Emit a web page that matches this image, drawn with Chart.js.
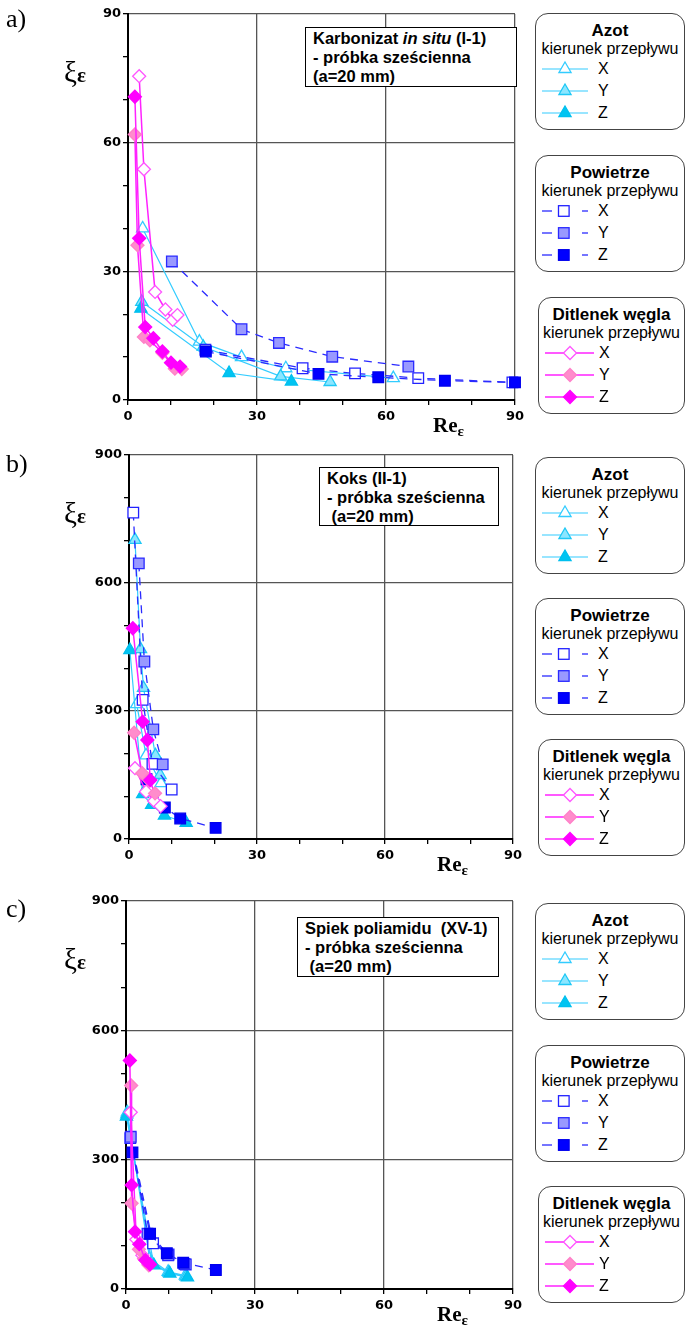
<!DOCTYPE html>
<html lang="pl"><head><meta charset="utf-8">
<script src="https://cdn.jsdelivr.net/npm/chart.js@4.4.1/dist/chart.umd.min.js"></script>
<style>
html,body{margin:0;padding:0;background:#fff;}
body{width:685px;height:1327px;position:relative;overflow:hidden;font-family:"Liberation Sans",Arial,sans-serif;color:#000;}
canvas{position:absolute;left:0;}
.pl{position:absolute;font-family:"Liberation Serif","Times New Roman",serif;font-size:26px;line-height:26px;}
.yt{position:absolute;font-family:"Liberation Serif","Times New Roman",serif;line-height:30px;white-space:nowrap;}
.yt .g{font-size:29px;}
.yt .s{font-size:21px;font-weight:bold;}
.xt{position:absolute;font-family:"Liberation Serif","Times New Roman",serif;font-weight:bold;font-size:21px;line-height:22px;white-space:nowrap;}
.xt .s{font-size:15px;position:relative;top:4px;}
.note{position:absolute;background:#fff;border:1px solid #000;box-sizing:border-box;font-weight:bold;font-size:16.5px;line-height:19px;padding:1px 0 0 7px;white-space:pre;}
.leg{position:absolute;background:#fff;border:1.5px solid #444;border-radius:13px;box-sizing:border-box;height:117px;}
.leg .t{position:absolute;left:0;right:0;text-align:center;font-weight:bold;font-size:17px;line-height:20px;top:7px;white-space:nowrap;}
.leg .st{position:absolute;left:-4px;right:-4px;text-align:center;font-size:16px;line-height:18px;top:26px;white-space:nowrap;}
.leg svg{position:absolute;}
.leg .k{position:absolute;font-size:16px;line-height:18px;}
</style></head>
<body>
<canvas id="cA" width="530" height="440" style="top:0px"></canvas>
<canvas id="cB" width="530" height="438" style="top:441px"></canvas>
<canvas id="cC" width="530" height="442" style="top:887px"></canvas>
<script>
// ---------- DATA ----------
const groupNames = ['Azot', 'Powietrze', 'Ditlenek węgla'];
const legendSubtitle = 'kierunek przepływu';
const directions = ['X', 'Y', 'Z'];
const xTickLabels = [0, 30, 60, 90];
const yTickLabelsA = [0, 30, 60, 90];
const yTickLabelsBC = [0, 300, 600, 900];

// a) Karbonizat in situ (I-1)   [Re_eps, xi_eps]
const aAzotX = [[3.4,40.0],[16.6,13.6],[26.4,10.0],[36.7,7.4],[61.7,5.1]];
const aAzotY = [[3.2,22.9],[17.5,12.4],[35.5,5.5],[47.0,4.2]];
const aAzotZ = [[3.0,21.3],[23.5,6.3],[38.0,4.3]];
const aPowX  = [[18.0,11.7],[40.6,7.4],[52.8,6.2],[67.5,5.1],[89.4,4.1]];
const aPowY  = [[10.2,32.3],[26.4,16.5],[35.1,13.3],[47.5,10.1],[65.2,7.8]];
const aPowZ  = [[18.1,11.3],[44.3,6.1],[58.2,5.3],[73.7,4.5],[90.0,4.1]];
const aCo2X  = [[2.6,75.5],[3.7,53.8],[6.3,25.2],[8.7,21.1],[10.4,18.7],[11.5,19.8]];
const aCo2Y  = [[1.6,61.9],[2.2,36.1],[3.7,14.7],[5.1,13.9],[8.0,11.0],[10.9,7.3],[12.5,7.2]];
const aCo2Z  = [[1.6,70.7],[2.6,37.7],[4.0,17.0],[5.9,14.4],[8.0,11.3],[10.0,8.7],[12.1,7.8]];

// b) Koks (II-1)
const bAzotX = [[1.8,316],[4.0,196],[7.5,131]];
const bAzotY = [[1.4,701],[2.7,445],[3.4,354],[6.2,196],[7.3,150]];
const bAzotZ = [[0.2,443],[3.2,105],[5.3,80],[8.3,55],[13.4,38]];
const bPowX  = [[1.0,765],[3.2,326],[5.5,176],[10.0,116]];
const bPowY  = [[2.3,646],[3.6,416],[5.7,257],[7.9,175]];
const bPowZ  = [[4.1,140],[8.4,74],[12.0,48],[20.3,26]];
const bCo2X  = [[1.4,166],[4.0,111],[5.9,89],[7.4,77]];
const bCo2Y  = [[1.2,249],[3.1,154],[4.8,137],[6.1,107]];
const bCo2Z  = [[0.9,494],[3.2,275],[4.3,232],[5.0,138]];

// c) Spiek poliamidu (XV-1)
const cAzotX = [[0.3,410],[5.5,70],[9.8,40],[13.8,31]];
const cAzotY = [[0.2,405],[6.0,60],[10.0,38],[14.0,29]];
const cAzotZ = [[0.1,400],[6.5,55],[10.2,36],[14.3,27]];
const cPowX  = [[1.0,350],[6.3,106],[9.9,80],[13.9,57]];
const cPowY  = [[1.1,353],[5.0,128],[9.8,78],[13.6,58]];
const cPowZ  = [[1.5,317],[5.6,128],[9.5,83],[13.3,61],[20.9,44]];
const cCo2X  = [[1.1,410],[2.4,115],[3.8,78],[5.2,58]];
const cCo2Y  = [[1.2,472],[1.3,199],[3.0,92],[4.2,70],[5.3,55]];
const cCo2Z  = [[0.9,530],[1.3,241],[2.1,133],[3.1,104],[4.5,67],[5.6,57]];

// ---------- STYLES ----------
const STY = [
  {line:'#33ccff', dash:[], lw:1.2, shape:'triangle', r:7, fills:['#ffffff','#8be6ff','#00c4f2'], borders:['#33ccff','#1ec8f5','#00bfee']},
  {line:'#2a2aff', dash:[8,6], lw:1.3, shape:'rect', r:7.5, fills:['#ffffff','#9999ff','#0000ff'], borders:['#2222ff','#2a2aff','#0000ee']},
  {line:'#ff22ff', dash:[], lw:1.5, shape:'rectRot', r:6.5, fills:['#ffffff','#ff8ccc','#ff00ff'], borders:['#ff55ff','#ff80c8','#ff00ff']}
];

const panels = [
  {id:'cA', sets:[[aAzotX,aAzotY,aAzotZ],[aPowX,aPowY,aPowZ],[aCo2X,aCo2Y,aCo2Z]], axisW:128, padR:15, yMax:90, yMinor:10, yLabels:yTickLabelsA},
  {id:'cB', sets:[[bAzotX,bAzotY,bAzotZ],[bPowX,bPowY,bPowZ],[bCo2X,bCo2Y,bCo2Z]], axisW:129, padR:17, yMax:900, yMinor:100, yLabels:yTickLabelsBC},
  {id:'cC', sets:[[cAzotX,cAzotY,cAzotZ],[cPowX,cPowY,cPowZ],[cCo2X,cCo2Y,cCo2Z]], axisW:126, padR:17, yMax:900, yMinor:100, yLabels:yTickLabelsBC}
];

function gridCol(labels){
  return (c) => {
    const v = c.tick ? c.tick.value : null;
    return (v !== null && v !== 0 && labels.includes(v)) ? '#555' : 'rgba(0,0,0,0)';
  };
}
const tickFont = {family:'"DejaVu Sans", sans-serif', weight:'bold', size:13};

panels.forEach(p => {
  const datasets = [];
  let idx = 0;
  p.sets.forEach((grp, gi) => {
    const s = STY[gi];
    grp.forEach((pts, di) => {
      datasets.push({
        label: groupNames[gi] + ' ' + directions[di],
        data: pts.map(q => ({x:q[0], y:q[1]})),
        showLine: true, fill: false, tension: 0, clip: false,
        borderColor: s.line, borderWidth: s.lw, borderDash: s.dash,
        pointStyle: s.shape, pointRadius: s.r, pointHoverRadius: s.r,
        pointBackgroundColor: s.fills[di], pointBorderColor: s.borders[di], pointBorderWidth: 1.3,
        order: 20 - idx
      });
      idx++;
    });
  });
  new Chart(document.getElementById(p.id), {
    type: 'scatter',
    data: {datasets},
    options: {
      responsive: false, animation: false, events: [],
      layout: {padding: {top:14, right:p.padR, bottom:10, left:0}},
      plugins: {legend:{display:false}, tooltip:{enabled:false}},
      scales: {
        x: {
          type:'linear', min:0, max:90,
          afterFit: s => { s.height = 30; },
          ticks: {stepSize:10, autoSkip:false, maxRotation:0, color:'#000', font:tickFont, padding:4,
                  callback: v => xTickLabels.includes(v) ? String(v) : ''},
          grid: {color: gridCol(xTickLabels), lineWidth:1.3, tickColor:'#000', tickLength:5, tickWidth:1.3},
          border: {display:true, color:'#000', width:2}
        },
        y: {
          type:'linear', min:0, max:p.yMax,
          afterFit: s => { s.width = p.axisW; },
          ticks: {stepSize:p.yMinor, autoSkip:false, color:'#000', font:tickFont, padding:2,
                  callback: v => p.yLabels.includes(v) ? String(v) : ''},
          grid: {color: gridCol(p.yLabels), lineWidth:1.3, tickColor:'#000', tickLength:5, tickWidth:1.3},
          border: {display:true, color:'#000', width:2}
        }
      }
    }
  });
});

// ---------- TEXT OVERLAYS ----------
function add(html, cls, left, top, extra){
  const d = document.createElement('div');
  d.className = cls; d.innerHTML = html;
  d.style.left = left + 'px'; d.style.top = top + 'px';
  if (extra) Object.assign(d.style, extra);
  document.body.appendChild(d);
  return d;
}
const panelLetters = ['a)', 'b)', 'c)'];
const letterTops = [6, 451, 896];
const plotTops = [14, 455, 901];
const plotBottoms = [400, 839, 1289];
const reLefts = [433, 437, 437];
panelLetters.forEach((t,i) => add(t, 'pl', 6, letterTops[i]));
plotTops.forEach(t => add('<span class="g">ξ</span><span class="s">ε</span>', 'yt', 64, t + 43));
plotBottoms.forEach((b,i) => add('Re<span class="s">ε</span>', 'xt', reLefts[i], b + 14));

const notes = [
  {l:305, t:27, w:212, h:60, lines:['Karbonizat <i>in situ</i> (I-1)', '- próbka sześcienna', '(a=20 mm)']},
  {l:319, t:467, w:180, h:59, lines:['Koks (II-1)', '- próbka sześcienna', ' (a=20 mm)']},
  {l:297, t:917, w:202, h:60, lines:['Spiek poliamidu  (XV-1)', '- próbka sześcienna', ' (a=20 mm)']}
];
notes.forEach(n => add(n.lines.join('\n'), 'note', n.l, n.t, {width:n.w+'px', height:n.h+'px'}));

function sample(gi, di){
  const s = STY[gi];
  const f = s.fills[di], b = s.borders[di];
  if (gi === 0) {
    const cx = 23, cy = 10, r = 7;
    const pts = `${cx},${cy-r} ${cx+0.866*r},${cy+0.5*r} ${cx-0.866*r},${cy+0.5*r}`;
    return `<line x1="0" y1="10" x2="46" y2="10" stroke="${s.line}" stroke-width="1.2"/><polygon points="${pts}" fill="${f}" stroke="${b}" stroke-width="1.3"/>`;
  } else if (gi === 1) {
    return `<line x1="0" y1="10" x2="10" y2="10" stroke="${s.line}" stroke-width="1.3"/><rect x="16.5" y="4.7" width="10.6" height="10.6" fill="${f}" stroke="${b}" stroke-width="1.3"/><line x1="40" y1="10" x2="46" y2="10" stroke="${s.line}" stroke-width="1.3"/>`;
  } else {
    const cx = 25, cy = 10, r = 6.5;
    const pts = `${cx},${cy-r} ${cx+r},${cy} ${cx},${cy+r} ${cx-r},${cy}`;
    return `<line x1="0" y1="10" x2="49" y2="10" stroke="${s.line}" stroke-width="1.5"/><polygon points="${pts}" fill="${f}" stroke="${b}" stroke-width="1.3"/>`;
  }
}
const legendTops = [[13,155,297],[457,598,739],[903,1045,1186]];
const legendLefts = [535, 535, 538];
const rowCenters = [55, 77, 99];
legendTops.forEach(tops => {
  tops.forEach((top, gi) => {
    const left = legendLefts[gi];
    const d = document.createElement('div');
    d.className = 'leg';
    d.style.left = left + 'px'; d.style.top = top + 'px'; d.style.width = (685 - left) + 'px';
    let h = `<div class="t">${groupNames[gi]}</div><div class="st">${legendSubtitle}</div>`;
    directions.forEach((dir, di) => {
      const cy = rowCenters[di];
      h += `<svg style="left:5.5px;top:${cy-10}px" width="52" height="20">${sample(gi, di)}</svg>`;
      h += `<div class="k" style="left:${gi===2?60:62}px;top:${cy-9}px">${dir}</div>`;
    });
    d.innerHTML = h;
    document.body.appendChild(d);
  });
});
</script>
</body></html>
